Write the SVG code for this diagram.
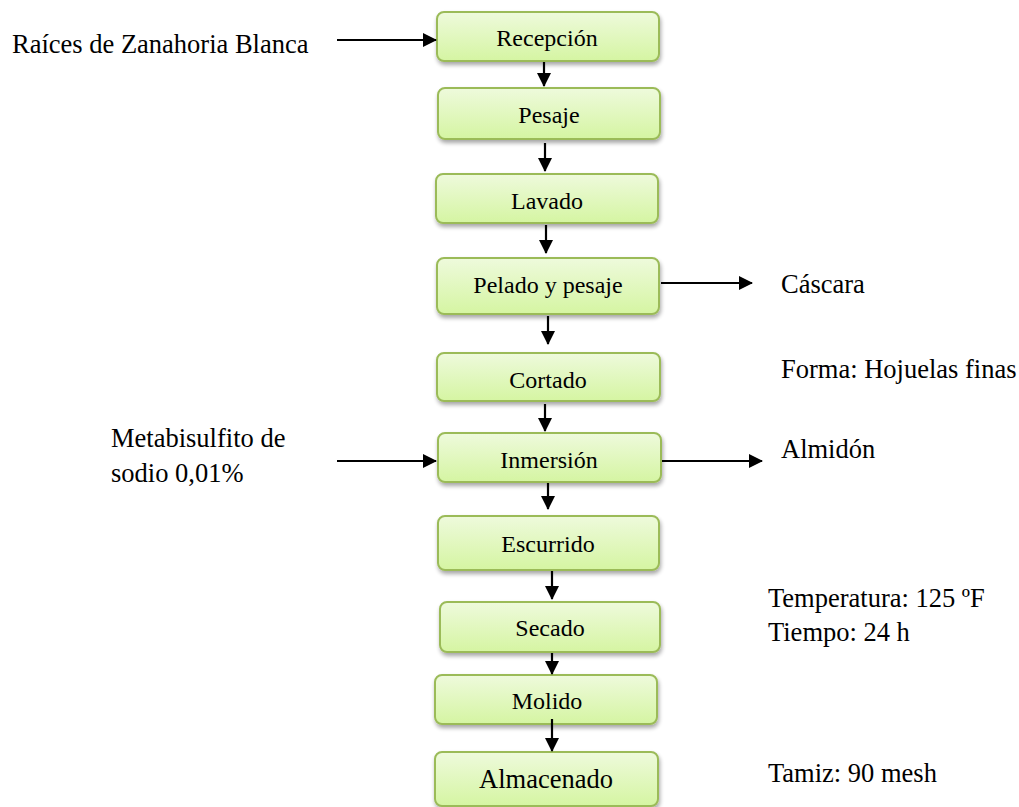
<svg xmlns="http://www.w3.org/2000/svg" width="1019" height="807" viewBox="0 0 1019 807">
<style>
.box{fill:url(#g);stroke:#9bbb59;stroke-width:2;filter:url(#sh)}
.t{font-family:"Liberation Serif",serif;font-size:24px;fill:#000;text-anchor:middle}
.l{font-family:"Liberation Serif",serif;font-size:26.5px;fill:#000}
.c{stroke:#000;stroke-width:2.2;fill:none;marker-end:url(#a)}
</style>
<defs>
<linearGradient id="g" x1="0" y1="0" x2="0" y2="1">
<stop offset="0" stop-color="#eefadc"/>
<stop offset="1" stop-color="#d5f5a2"/>
</linearGradient>
<filter id="sh" x="-10%" y="-20%" width="120%" height="150%">
<feGaussianBlur in="SourceAlpha" stdDeviation="2"/>
<feOffset dx="1" dy="3" result="b"/>
<feComponentTransfer><feFuncA type="linear" slope="0.35"/></feComponentTransfer>
<feMerge><feMergeNode/><feMergeNode in="SourceGraphic"/></feMerge>
</filter>
<marker id="a" markerWidth="14" markerHeight="14" refX="13" refY="7" orient="auto" markerUnits="userSpaceOnUse" viewBox="0 0 14 14">
<path d="M0,0 L14,7 L0,14 z" fill="#000"/>
</marker>
</defs>
<g id="recepcion"><rect class="box" x="437" y="12" width="222" height="49" rx="7"/><text class="t" x="547" y="46">Recepción</text></g>
<g id="pesaje"><rect class="box" x="438" y="88" width="222" height="51" rx="7"/><text class="t" x="549" y="123">Pesaje</text></g>
<g id="lavado"><rect class="box" x="436" y="174" width="222" height="49" rx="7"/><text class="t" x="547" y="209">Lavado</text></g>
<g id="pelado"><rect class="box" x="437" y="258" width="222" height="56" rx="7"/><text class="t" x="548" y="293">Pelado y pesaje</text></g>
<g id="cortado"><rect class="box" x="437" y="353" width="223" height="48" rx="7"/><text class="t" x="548" y="388">Cortado</text></g>
<g id="inmersion"><rect class="box" x="438" y="433" width="223" height="49" rx="7"/><text class="t" x="549" y="468">Inmersión</text></g>
<g id="escurrido"><rect class="box" x="438" y="516" width="221" height="54" rx="7"/><text class="t" x="548" y="552">Escurrido</text></g>
<g id="secado"><rect class="box" x="440" y="602" width="220" height="50" rx="7"/><text class="t" x="550" y="636">Secado</text></g>
<g id="molido"><rect class="box" x="435" y="675" width="222" height="49" rx="7"/><text class="t" x="547" y="709">Molido</text></g>
<g id="almacenado"><rect class="box" x="435" y="752" width="223" height="54" rx="7"/><text class="t" x="546" y="788" style="font-size:26.5px">Almacenado</text></g>
<g id="connectors">
<line class="c" x1="337" y1="40" x2="436" y2="40"/>
<line class="c" x1="544" y1="62" x2="544" y2="86"/>
<line class="c" x1="545" y1="143" x2="545" y2="171"/>
<line class="c" x1="546" y1="225" x2="546" y2="253"/>
<line class="c" x1="548" y1="316" x2="548" y2="344"/>
<line class="c" x1="661" y1="283" x2="752" y2="283"/>
<line class="c" x1="545" y1="404" x2="545" y2="431"/>
<line class="c" x1="337" y1="461" x2="436" y2="461"/>
<line class="c" x1="662" y1="461" x2="762" y2="461"/>
<line class="c" x1="548" y1="483" x2="548" y2="509"/>
<line class="c" x1="552" y1="571" x2="552" y2="599"/>
<line class="c" x1="552" y1="653" x2="552" y2="674"/>
<line class="c" x1="552" y1="719" x2="552" y2="751"/>
</g>
<g id="labels">
<text class="l" x="12" y="53">Raíces de Zanahoria Blanca</text>
<text class="l" x="781" y="293">Cáscara</text>
<text class="l" x="781" y="378">Forma: Hojuelas finas</text>
<text class="l" x="111" y="447">Metabisulfito de</text>
<text class="l" x="111" y="482">sodio 0,01%</text>
<text class="l" x="781" y="458">Almidón</text>
<text class="l" x="768" y="607">Temperatura: 125 ºF</text>
<text class="l" x="768" y="641">Tiempo: 24 h</text>
<text class="l" x="768" y="782">Tamiz: 90 mesh</text>
</g>
</svg>
